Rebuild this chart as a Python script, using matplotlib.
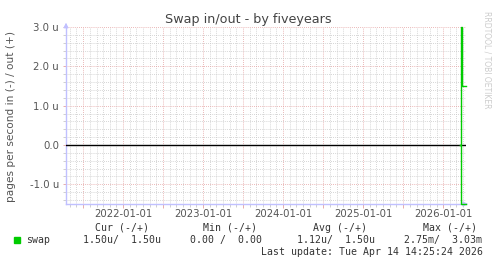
import matplotlib
matplotlib.use("Agg")
import matplotlib.pyplot as plt
import matplotlib.dates as mdates
import numpy as np
import pandas as pd

# data (values in pages/s)
times = pd.to_datetime(["2026-03-20", "2026-03-25", "2026-03-26", "2026-04-13"])
swap_out = np.array([0.0, 3.03e-3, 1.5e-6, 1.5e-6])
swap_in = np.array([0.0, -2.75e-3, -1.5e-6, -1.5e-6])

x_start = pd.Timestamp("2021-04-14 14:25")
x_end = pd.Timestamp("2026-04-14 14:25")
y_lo, y_hi = -1.5e-6, 3.0e-6

year_ticks = pd.to_datetime(["2022-01-01", "2023-01-01", "2024-01-01", "2025-01-01", "2026-01-01"])
year_labels = ["2022-01-01", "2023-01-01", "2024-01-01", "2025-01-01", "2026-01-01"]

headers = ["Cur (-/+)", "Min (-/+)", "Avg (-/+)", "Max (-/+)"]
legend_vals = ["1.50u/  1.50u", "0.00 /  0.00", "1.12u/  1.50u", "2.75m/  3.03m"]
last_update = "Last update: Tue Apr 14 14:25:24 2026"

green = "#00cc00"
axis_blue = "#c0c0ff"
txt = "#555555"
grid_minor = "#c8c8c8"
grid_major = "#e4a0a0"

fig = plt.figure(figsize=(4.97, 2.64), dpi=100)
ax = fig.add_axes([66 / 497, 60 / 264, 400 / 497, 177 / 264])

# grid: minor monthly / 0.2u, major half-yearly / 1u
ax.xaxis.set_major_locator(mdates.MonthLocator(bymonth=[1, 7]))
ax.xaxis.set_minor_locator(mdates.MonthLocator())
ax.yaxis.set_major_locator(plt.MultipleLocator(1e-6))
ax.yaxis.set_minor_locator(plt.MultipleLocator(0.2e-6))
ax.grid(which="minor", color=grid_minor, linestyle=(0, (1, 1.5)), linewidth=0.6)
ax.grid(which="major", color=grid_major, linestyle=(0, (1, 1.5)), linewidth=0.6)
ax.set_axisbelow(True)
ax.xaxis.set_major_formatter(plt.NullFormatter())

# year labels
for t, lab in zip(year_ticks, year_labels):
    ax.text(t, -0.03, lab, transform=ax.get_xaxis_transform(), ha="center", va="top",
            fontsize=7.3, color=txt)


def yfmt(v, pos):
    if abs(v) < 1e-12:
        return "0.0"
    return f"{v * 1e6:.1f} u"


ax.yaxis.set_major_formatter(plt.FuncFormatter(yfmt))
ax.tick_params(axis="y", which="major", labelsize=7.3, labelcolor=txt, length=2,
               width=0.6, color=grid_major, pad=3)
ax.tick_params(axis="y", which="minor", length=2, width=0.6, color=grid_minor)
ax.tick_params(axis="x", which="major", length=3, width=0.6, color=grid_major)
ax.tick_params(axis="x", which="minor", length=2, width=0.6, color=grid_minor)

ax.axhline(0, color="black", linewidth=1.0, zorder=3)

# rrdtool draws out-of-range values on the edge of the graph
ax.plot(times, np.clip(swap_out, y_lo, y_hi), drawstyle="steps-post", color=green,
        linewidth=1.0, zorder=4, clip_on=False)
ax.plot(times, np.clip(swap_in, y_lo, y_hi), drawstyle="steps-post", color=green,
        linewidth=1.0, zorder=4, clip_on=False)

ax.set_xlim(x_start, x_end)
ax.set_ylim(y_lo, y_hi)

for side in ["top", "right"]:
    ax.spines[side].set_visible(False)
for side in ["left", "bottom"]:
    ax.spines[side].set_color(axis_blue)
    ax.spines[side].set_linewidth(1.0)

ax.annotate("", xy=(0, 1.04), xytext=(0, 0.99), xycoords="axes fraction",
            arrowprops=dict(arrowstyle="-|>", color=axis_blue, lw=0.8, mutation_scale=7))
ax.annotate("", xy=(1.012, 0), xytext=(0.99, 0), xycoords="axes fraction",
            arrowprops=dict(arrowstyle="-|>", color=axis_blue, lw=0.8, mutation_scale=7))

fig.text(248 / 497, 1 - 19 / 264, "Swap in/out - by fiveyears", ha="center", va="center",
         fontsize=9.2, color="#444444")
fig.text(11 / 497, 1 - 117 / 264, "pages per second in (-) / out (+)", rotation=90,
         ha="center", va="center", fontsize=7.6, color=txt)
fig.text(487 / 497, 1 - 60 / 264, "RRDTOOL / TOBI OETIKER", rotation=270,
         ha="center", va="center", fontsize=5.5, color="#cccccc")

mono = dict(family="DejaVu Sans Mono", fontsize=7.1, color="#333333")
head_x = [95, 203, 313, 423]
val_x = [83, 190, 297, 404]
for hx, h in zip(head_x, headers):
    fig.text(hx / 497, 1 - 228 / 264, h, ha="left", va="center", **mono)
fig.patches.append(plt.Rectangle((14 / 497, 1 - 243 / 264), 6 / 497, 6 / 264,
                                 transform=fig.transFigure, color=green, figure=fig))
fig.text(26 / 497, 1 - 240 / 264, "swap", ha="left", va="center", **mono)
for vx, v in zip(val_x, legend_vals):
    fig.text(vx / 497, 1 - 240 / 264, v, ha="left", va="center", **mono)
fig.text(483 / 497, 1 - 252 / 264, last_update, ha="right", va="center", **mono)

fig.savefig("out.png", dpi=100)
